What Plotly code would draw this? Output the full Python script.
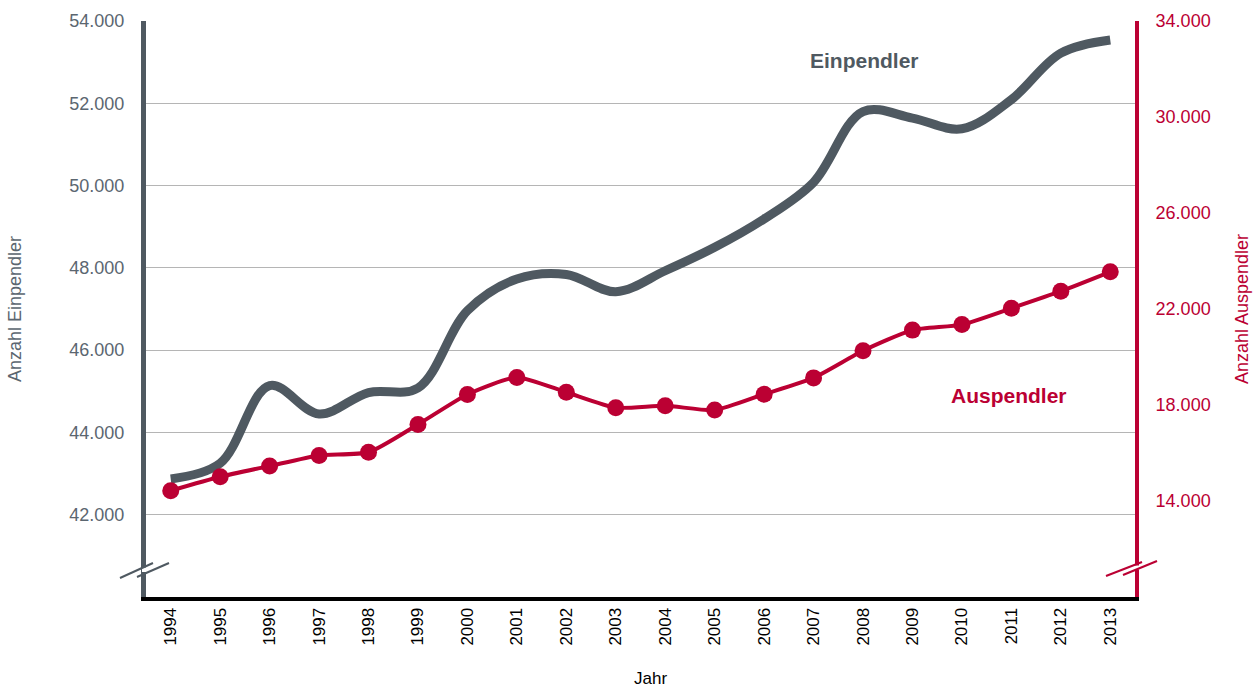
import plotly.graph_objects as go

jahre = list(range(1994, 2014))
einpendler = [42870, 43250, 45140, 44450, 44970, 45080, 46960, 47730, 47840, 47420,
              47930, 48500, 49190, 50080, 51800, 51640, 51380, 52090, 53220, 53540]
auspendler = [14430, 15010, 15460, 15900, 16030, 17190, 18440, 19150, 18530, 17890,
              17970, 17790, 18450, 19130, 20260, 21120, 21350, 22030, 22740, 23550]
ticks_links = [42000, 44000, 46000, 48000, 50000, 52000, 54000]
ticks_rechts = [14000, 18000, 22000, 26000, 30000, 34000]

grau = "#4f5961"
rot = "#bb0033"
schrift = "Liberation Sans, Arial, sans-serif"

fig = go.Figure()

fig.add_trace(go.Scatter(
    x=jahre, y=einpendler, mode="lines", name="Einpendler",
    line=dict(color=grau, width=9, shape="spline", smoothing=1.0),
))
fig.add_trace(go.Scatter(
    x=jahre, y=auspendler, mode="lines+markers", name="Auspendler", yaxis="y2",
    line=dict(color=rot, width=4, shape="spline", smoothing=0.6),
    marker=dict(color=rot, size=17),
))

# Plotbereich in Seitenpixeln: x 146..1135, y 21..597
L, R, T, B = 146, 1135, 21, 597
def px(x, y):
    return (x - L) / (R - L), (B - y) / (B - T)

shapes = []
def strich(x0, y0, x1, y1, farbe, breite=2):
    a, b = px(x0, y0)
    c, d = px(x1, y1)
    shapes.append(dict(type="line", xref="paper", yref="paper", x0=a, y0=b, x1=c, y1=d,
                       line=dict(color=farbe, width=breite), layer="above"))

def luecke(x0, y0, x1, y1):
    a, b = px(x0, y0)
    c, d = px(x1, y1)
    shapes.append(dict(type="rect", xref="paper", yref="paper", x0=a, y0=b, x1=c, y1=d,
                       fillcolor="white", line=dict(width=0), layer="above"))

# Achsenbruch links
luecke(142, 567.5, 150, 572)
strich(120, 578, 153, 563, grau)
strich(137, 577, 169, 563, grau)
# Achsenbruch rechts
luecke(1131, 565.5, 1139, 569.5)
strich(1106, 576, 1142, 562, rot)
strich(1123, 575, 1157, 561, rot)

fig.update_layout(
    width=1258, height=687,
    margin=dict(l=L, r=1258 - R, t=T, b=687 - B, autoexpand=False),
    plot_bgcolor="white", paper_bgcolor="white",
    showlegend=False,
    separators=",.",
    font=dict(family=schrift, size=18, color="#5b6670"),
    xaxis=dict(
        range=[1993.5, 2013.5], tickvals=jahre, tickangle=-90,
        showgrid=False, zeroline=False, ticks="",
        showline=True, linecolor="black", linewidth=4,
        tickfont=dict(color="black", size=17), ticklabelstandoff=0,
    ),
    yaxis=dict(
        range=[40000, 54000], tickvals=ticks_links, tickformat=",d",
        showgrid=True, gridcolor="#b5b5b5", gridwidth=1, zeroline=False,
        showline=True, linecolor=grau, linewidth=5, ticks="",
        tickfont=dict(color="#5b6670", size=18), ticklabelstandoff=13,
    ),
    yaxis2=dict(
        range=[10000, 34000], tickvals=ticks_rechts, tickformat=",d",
        overlaying="y", side="right", showgrid=False, zeroline=False,
        showline=True, linecolor=rot, linewidth=4, ticks="",
        tickfont=dict(color=rot, size=18), ticklabelstandoff=13,
    ),
    shapes=shapes,
    annotations=[
        dict(text="<b>Einpendler</b>", x=2008.03, y=53050, xref="x", yref="y",
             showarrow=False, font=dict(color=grau, size=21)),
        dict(text="<b>Auspendler</b>", x=2010.95, y=44890, xref="x", yref="y",
             showarrow=False, font=dict(color=rot, size=21)),
        dict(text="Anzahl Einpendler", xref="paper", yref="paper", x=0, y=0.5,
             xanchor="center", yanchor="middle",
             xshift=15 - L, textangle=-90, showarrow=False,
             font=dict(color="#5b6670", size=18)),
        dict(text="Anzahl Auspendler", xref="paper", yref="paper", x=1, y=0.5,
             xanchor="center", yanchor="middle",
             xshift=1242 - R, textangle=-90, showarrow=False,
             font=dict(color=rot, size=18)),
        dict(text="Jahr", xref="paper", yref="paper", x=(650 - L) / (R - L), y=0,
             xanchor="center", yanchor="middle",
             yshift=-(678 - B), showarrow=False,
             font=dict(color="black", size=17)),
    ],
)

# Browser-Standardrand der Seite entfernen, keine Werkzeugleiste
fig.write_html("out.html", config={"displayModeBar": False},
               post_script="document.body.style.margin='0';")
